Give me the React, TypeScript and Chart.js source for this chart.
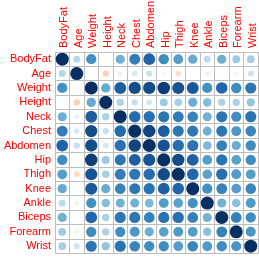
import React, { useEffect, useRef } from "react";
import { Chart, registerables } from "chart.js";

Chart.register(...registerables);

const variables = ["BodyFat", "Age", "Weight", "Height", "Neck", "Chest", "Abdomen", "Hip", "Thigh", "Knee", "Ankle", "Biceps", "Forearm", "Wrist"];

const bodyFat = [1, 0.29, 0.61, -0.03, 0.49, 0.70, 0.81, 0.63, 0.56, 0.51, 0.27, 0.49, 0.36, 0.35];
const age = [0.29, 1, -0.01, -0.24, 0.11, 0.18, 0.23, -0.05, -0.20, 0.02, -0.11, -0.04, -0.09, 0.21];
const weight = [0.61, -0.01, 1, 0.51, 0.83, 0.89, 0.89, 0.94, 0.87, 0.85, 0.61, 0.80, 0.63, 0.73];
const height = [-0.03, -0.24, 0.51, 1, 0.32, 0.23, 0.19, 0.37, 0.34, 0.50, 0.43, 0.32, 0.32, 0.40];
const neck = [0.49, 0.11, 0.83, 0.32, 1, 0.78, 0.75, 0.73, 0.70, 0.67, 0.48, 0.73, 0.62, 0.74];
const chest = [0.70, 0.18, 0.89, 0.23, 0.78, 1, 0.92, 0.83, 0.73, 0.72, 0.48, 0.73, 0.58, 0.66];
const abdomen = [0.81, 0.23, 0.89, 0.19, 0.75, 0.92, 1, 0.87, 0.77, 0.74, 0.45, 0.68, 0.50, 0.62];
const hip = [0.63, -0.05, 0.94, 0.37, 0.73, 0.83, 0.87, 1, 0.90, 0.82, 0.56, 0.74, 0.55, 0.63];
const thigh = [0.56, -0.20, 0.87, 0.34, 0.70, 0.73, 0.77, 0.90, 1, 0.80, 0.54, 0.76, 0.57, 0.56];
const knee = [0.51, 0.02, 0.85, 0.50, 0.67, 0.72, 0.74, 0.82, 0.80, 1, 0.61, 0.68, 0.56, 0.66];
const ankle = [0.27, -0.11, 0.61, 0.43, 0.48, 0.48, 0.45, 0.56, 0.54, 0.61, 1, 0.48, 0.42, 0.57];
const biceps = [0.49, -0.04, 0.80, 0.32, 0.73, 0.73, 0.68, 0.74, 0.76, 0.68, 0.48, 1, 0.68, 0.63];
const forearm = [0.36, -0.09, 0.63, 0.32, 0.62, 0.58, 0.50, 0.55, 0.57, 0.56, 0.42, 0.68, 1, 0.59];
const wrist = [0.35, 0.21, 0.73, 0.40, 0.74, 0.66, 0.62, 0.63, 0.56, 0.66, 0.57, 0.63, 0.59, 1];

const matrix = [bodyFat, age, weight, height, neck, chest, abdomen, hip, thigh, knee, ankle, biceps, forearm, wrist];

const palette = ["#67001F", "#B2182B", "#D6604D", "#F4A582", "#FDDBC7", "#FFFFFF", "#D1E5F0", "#92C5DE", "#4393C3", "#2166AC", "#053061"];

function hexToRgb(h: string) {
  return [parseInt(h.slice(1, 3), 16), parseInt(h.slice(3, 5), 16), parseInt(h.slice(5, 7), 16)];
}

function colorFor(v: number) {
  const t = ((v + 1) / 2) * 10;
  const i = Math.max(0, Math.min(9, Math.floor(t)));
  const f = t - i;
  const a = hexToRgb(palette[i]);
  const b = hexToRgb(palette[i + 1]);
  const c = a.map((x, k) => Math.round(x + (b[k] - x) * f));
  return `rgb(${c[0]},${c[1]},${c[2]})`;
}

function radiusFor(ctx: any) {
  const raw = ctx.raw;
  const area = ctx.chart.chartArea;
  if (!raw || !area) return 0;
  const cell = area.width / variables.length;
  return 0.45 * Math.sqrt(Math.abs(raw.v)) * cell;
}

export default function App() {
  const ref = useRef<HTMLCanvasElement>(null);

  useEffect(() => {
    if (!ref.current) return;
    const points: any[] = [];
    matrix.forEach((row, r) => {
      row.forEach((v, c) => {
        points.push({ x: variables[c], y: variables[r], v });
      });
    });
    const font = { family: "'Liberation Sans', Arial, sans-serif", size: 11 };
    const chart = new Chart(ref.current, {
      type: "scatter",
      data: {
        labels: variables,
        datasets: [
          {
            data: points,
            pointRadius: radiusFor,
            pointHoverRadius: radiusFor,
            pointBackgroundColor: (ctx: any) => (ctx.raw ? colorFor(ctx.raw.v) : "#fff"),
            pointBorderWidth: 0,
          } as any,
        ],
      },
      options: {
        animation: false,
        responsive: false,
        events: [],
        layout: { padding: { left: 0, right: 1, top: 0, bottom: 9 } },
        plugins: { legend: { display: false }, tooltip: { enabled: false } },
        scales: {
          x: {
            type: "category",
            labels: variables,
            position: "top",
            offset: true,
            grid: { offset: true, color: "#BEBEBE", drawTicks: false },
            border: { color: "#BEBEBE" },
            ticks: { color: "#FF0000", font, padding: 4, autoSkip: false, maxRotation: 90, minRotation: 90, labelOffset: 15 },
            afterFit: (s: any) => {
              s.height = 52;
            },
          },
          y: {
            type: "category",
            labels: variables,
            offset: true,
            grid: { offset: true, color: "#BEBEBE", drawTicks: false },
            border: { color: "#BEBEBE" },
            ticks: { color: "#FF0000", font, padding: 4, autoSkip: false },
            afterFit: (s: any) => {
              s.width = 55;
            },
          },
        } as any,
      },
    });
    return () => chart.destroy();
  }, []);

  return (
    <div style={{ position: "fixed", left: 0, top: 0, width: 259, height: 264, background: "#fff" }}>
      <canvas ref={ref} width={259} height={264} />
    </div>
  );
}
